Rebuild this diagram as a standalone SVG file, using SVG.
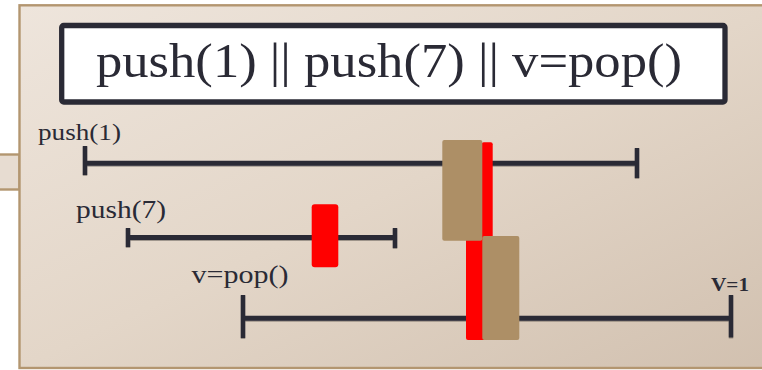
<svg xmlns="http://www.w3.org/2000/svg" width="762" height="370" viewBox="0 0 762 370">
  <defs>
    <linearGradient id="bg" x1="0" y1="0" x2="1" y2="1">
      <stop offset="0" stop-color="#eee5dc"/>
      <stop offset="0.5" stop-color="#e3d6c8"/>
      <stop offset="1" stop-color="#d1c0af"/>
    </linearGradient>
    <filter id="sh" x="-5%" y="-50%" width="110%" height="200%">
      <feDropShadow dx="0" dy="1" stdDeviation="0.6" flood-color="#000" flood-opacity="0.3"/>
    </filter>
    <style>
      .frame { stroke: #b39670; stroke-width: 2.4; }
      .ink { stroke: #2a2a35; stroke-linecap: butt; fill: none; }
      .bar { stroke-width: 5; }
      .tick { stroke-width: 4.5; }
      .lbl { font-family: "Liberation Serif", "Times New Roman", serif; fill: #2a2a35; }
      .red { fill: #ff0000; }
      .brown { fill: #ad8f66; }
    </style>
  </defs>
  <rect x="0" y="0" width="762" height="370" fill="#ffffff"/>
  <rect id="tab" x="-3" y="154.5" width="22.5" height="35" fill="#e7dcd1" class="frame"/>
  <rect id="frame" x="19.5" y="5.3" width="760" height="362.7" fill="url(#bg)" class="frame"/>

  <g id="title">
    <rect x="61.7" y="25.5" width="663.3" height="76.5" rx="2" fill="#ffffff" stroke="#2a2a35" stroke-width="5.3"/>
    <text x="96" y="77" class="lbl" font-size="48" textLength="586" lengthAdjust="spacingAndGlyphs">push(1) || push(7) || v=pop()</text>
  </g>

  <g id="connectors" filter="url(#sh)">
    <line class="ink bar" x1="85" y1="163.3" x2="637" y2="163.3"/>
    <line class="ink tick" x1="85" y1="146" x2="85" y2="175"/>
    <line class="ink tick" x1="637" y1="148" x2="637" y2="178"/>
    <line class="ink bar" x1="128" y1="237.5" x2="395" y2="237.5"/>
    <line class="ink tick" x1="128" y1="228" x2="128" y2="247"/>
    <line class="ink tick" x1="395" y1="228" x2="395" y2="248"/>
    <line class="ink bar" x1="243" y1="318.3" x2="731" y2="318.3"/>
    <line class="ink tick" x1="243" y1="295" x2="243" y2="338"/>
    <line class="ink tick" x1="731" y1="295" x2="731" y2="337.5"/>
  </g>

  <g id="op-push1">
    <text x="38" y="140" class="lbl" font-size="24" textLength="83" lengthAdjust="spacingAndGlyphs">push(1)</text>
    <rect class="red" x="481.7" y="142.3" width="11" height="100" rx="2"/>
  </g>

  <g id="op-push7">
    <text x="76" y="218" class="lbl" font-size="25" textLength="90" lengthAdjust="spacingAndGlyphs">push(7)</text>
    <rect class="red" x="311.7" y="204.3" width="26.6" height="63" rx="3"/>
  </g>

  <g id="op-pop">
    <text x="191.5" y="283" class="lbl" font-size="26" textLength="97" lengthAdjust="spacingAndGlyphs">v=pop()</text>
    <rect class="red" x="466" y="220" width="22" height="120" rx="2"/>
    <text x="711" y="290.7" class="lbl" font-size="18" font-weight="bold" textLength="38" lengthAdjust="spacingAndGlyphs">V=1</text>
  </g>

  <g id="linearization">
    <rect class="brown" x="442.3" y="140" width="40" height="100.7" rx="2"/>
    <rect class="brown" x="482.3" y="236" width="37" height="104" rx="2"/>
  </g>
</svg>
